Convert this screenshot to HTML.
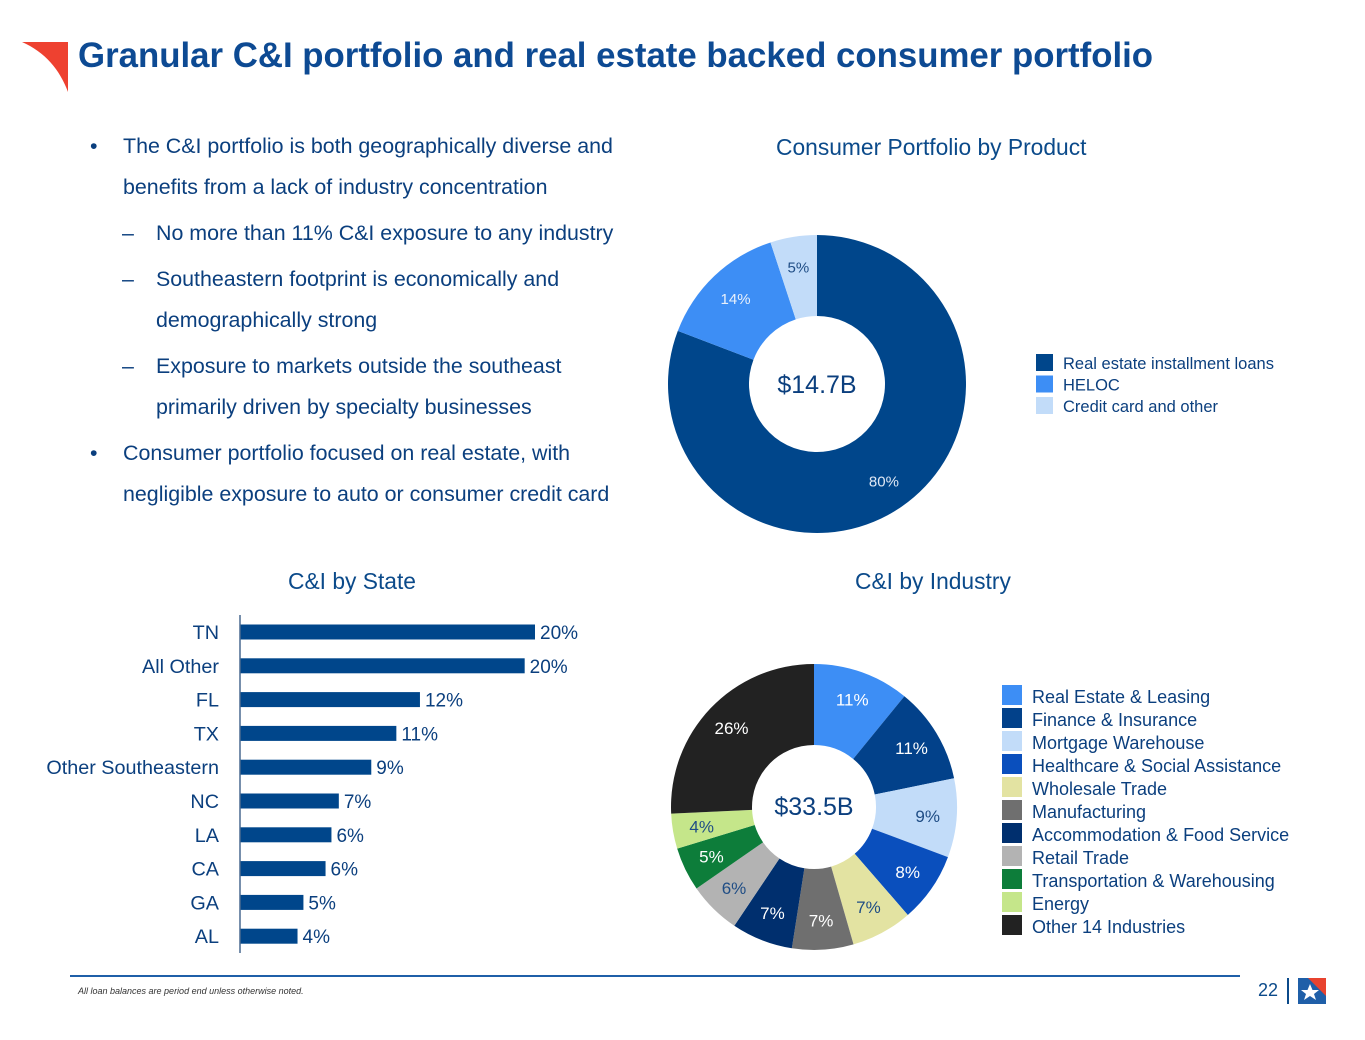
<!DOCTYPE html>
<html><head><meta charset="utf-8">
<style>
body{margin:0;width:1365px;height:1040px;background:#fff;font-family:"Liberation Sans",sans-serif;position:relative;overflow:hidden}
.t{position:absolute;white-space:nowrap}
.b{color:#0b3f7e;font-size:21.4px}
</style></head><body>
<svg style="position:absolute;left:20px;top:40px" width="52" height="55"><path d="M2,2 L48,2 L48,52 C40,30 25,12 2,2Z" fill="#ee4130"/></svg>
<div class="t" style="left:78px;top:36px;font-size:34.8px;font-weight:bold;color:#0d4a93">Granular C&amp;I portfolio and real estate backed consumer portfolio</div>

<div>
<div class="t b" style="left:90px;top:134px">•</div>
<div class="t b" style="left:123px;top:134px">The C&amp;I portfolio is both geographically diverse and</div>
<div class="t b" style="left:123px;top:175px">benefits from a lack of industry concentration</div>
<div class="t b" style="left:122px;top:221px">–</div>
<div class="t b" style="left:156px;top:221px">No more than 11% C&amp;I exposure to any industry</div>
<div class="t b" style="left:122px;top:267px">–</div>
<div class="t b" style="left:156px;top:267px">Southeastern footprint is economically and</div>
<div class="t b" style="left:156px;top:308px">demographically strong</div>
<div class="t b" style="left:122px;top:354px">–</div>
<div class="t b" style="left:156px;top:354px">Exposure to markets outside the southeast</div>
<div class="t b" style="left:156px;top:395px">primarily driven by specialty businesses</div>
<div class="t b" style="left:90px;top:441px">•</div>
<div class="t b" style="left:123px;top:441px">Consumer portfolio focused on real estate, with</div>
<div class="t b" style="left:123px;top:482px">negligible exposure to auto or consumer credit card</div>
</div>

<div class="t" style="left:776px;top:134px;font-size:22.8px;color:#0b4a8a">Consumer Portfolio by Product</div>
<div class="t" style="left:288px;top:568px;font-size:22.8px;color:#0b4a8a">C&amp;I by State</div>
<div class="t" style="left:855px;top:568px;font-size:22.8px;color:#0b4a8a">C&amp;I by Industry</div>

<svg id="main" width="1365" height="1040" style="position:absolute;left:0;top:0;font-family:'Liberation Sans',sans-serif"></svg>

<div style="position:absolute;left:70px;top:975px;width:1170px;height:2px;background:#1f5fa8"></div>
<div class="t" style="left:78px;top:986px;font-size:9px;font-style:italic;color:#333">All loan balances are period end unless otherwise noted.</div>
<div class="t" style="left:1258px;top:980px;font-size:18px;color:#0b4a8a">22</div>
<div style="position:absolute;left:1287px;top:978px;width:2px;height:26px;background:#0b4a8a"></div>
<svg style="position:absolute;left:1298px;top:978px" width="28" height="26"><rect width="28" height="26" fill="#1f5fa8"/><path d="M10,0 L28,0 L28,18Z" fill="#e8432f"/><polygon points="12,6 14.5,12 21,12 16,16 18,22 12,18 6,22 8,16 3,12 9.5,12" fill="#fff"/></svg>

<script>
const consCats=["Real estate installment loans","HELOC","Credit card and other"];
const consVals=[80,14,5];
const consLabels=["80%","14%","5%"];
const consColors=["#00468b","#3d8ef5","#c2dcf9"];
const consLabelColors=["#dfe8f5","#e8f0fb","#1f4d85"];

const indCats=["Real Estate & Leasing","Finance & Insurance","Mortgage Warehouse","Healthcare & Social Assistance","Wholesale Trade","Manufacturing","Accommodation & Food Service","Retail Trade","Transportation & Warehousing","Energy","Other 14 Industries"];
const indVals=[11,11,9,8,7,7,7,6,5,4,26];
const indLabels=["11%","11%","9%","8%","7%","7%","7%","6%","5%","4%","26%"];
const indColors=["#3d8ef5","#02418a","#c2dcf9","#0a4fbd","#e3e3a2","#6f6f6f","#002f6e","#b3b3b3","#0d7d3a","#c5e68a","#222222"];
const indLabelColors=["#fff","#fff","#1f4d85","#fff","#1f4d85","#fff","#fff","#1f4d85","#fff","#1f4d85","#fff"];

const stateCats=["TN","All Other","FL","TX","Other Southeastern","NC","LA","CA","GA","AL"];
const stateVals=[20.0,19.3,12.2,10.6,8.9,6.7,6.2,5.8,4.3,3.9];
const stateLabels=["20%","20%","12%","11%","9%","7%","6%","6%","5%","4%"];

const svg=document.getElementById('main');
const NS="http://www.w3.org/2000/svg";
function mk(tag,attrs,parent){const e=document.createElementNS(NS,tag);for(const k in attrs)e.setAttribute(k,attrs[k]);(parent||svg).appendChild(e);return e;}

function donut(cx,cy,R,r,vals,colors,labels,lcolors,lr,fs,name){
  const tot=vals.reduce((a,b)=>a+b,0);let a0=0;
  vals.forEach((v,i)=>{
    const a1=a0+v/tot*2*Math.PI;
    const p=(a,rad)=>[cx+rad*Math.sin(a),cy-rad*Math.cos(a)];
    const [x0,y0]=p(a0,R),[x1,y1]=p(a1,R),[x2,y2]=p(a1,r),[x3,y3]=p(a0,r);
    const lg=(a1-a0)>Math.PI?1:0;
    const path=mk('path',{d:`M${x0},${y0}A${R},${R} 0 ${lg} 1 ${x1},${y1}L${x2},${y2}A${r},${r} 0 ${lg} 0 ${x3},${y3}Z`,fill:colors[i]});
    
    
    const am=(a0+a1)/2;const [lx,ly]=p(am,lr);
    const t=mk('text',{x:lx,y:ly+fs*0.35,'text-anchor':'middle','font-size':fs,fill:lcolors[i]});
    t.textContent=labels[i];
    
    
    a0=a1;
  });
}
donut(817,384,149,68,consVals,consColors,consLabels,consLabelColors,118,15,'consumer');
donut(814,807,143,62,indVals,indColors,indLabels,indLabelColors,114,17,'industry');

function legend(x,y,dy,sz,cats,colors,fs,name){
  cats.forEach((c,i)=>{
    const r=mk('rect',{x:x,y:y+i*dy,width:sz,height:sz,fill:colors[i]});
    
    
    const t=mk('text',{x:x+sz+10,y:y+i*dy+sz-2,'font-size':fs,fill:'#0b3f7e'});
    t.textContent=cats[i];
    
    
  });
}
legend(1036,354,21.5,17,consCats,consColors,16.5,'consumer');
legend(1002,685,23,20,indCats,indColors,18,'industry');

const c1=mk('text',{x:817,y:393,'text-anchor':'middle','font-size':25,fill:'#0b3f7e'});c1.textContent="$14.7B";


const c2=mk('text',{x:814,y:815,'text-anchor':'middle','font-size':25,fill:'#0b3f7e'});c2.textContent="$33.5B";



const x0=240,unit=14.75,yTop=632,step=33.8,bh=15;
const xs=v=>x0+v*unit, ys=i=>yTop+i*step;
stateCats.forEach((c,i)=>{
  const r=mk('rect',{x:x0,y:ys(i)-bh/2,width:xs(stateVals[i])-x0,height:bh,fill:'#00468b'});
  
  
  const t=mk('text',{x:xs(stateVals[i])+5,y:ys(i)+7,'font-size':19,fill:'#0b3f7e'});t.textContent=stateLabels[i];
  
  
  const l=mk('text',{x:219,y:ys(i)+7,'font-size':19.8,fill:'#0b3f7e','text-anchor':'end'});l.textContent=c;
  
  
});
const ax=mk('line',{x1:x0,y1:615,x2:x0,y2:953,stroke:'#4a6a90','stroke-width':1.5});


</script>
</body></html>
